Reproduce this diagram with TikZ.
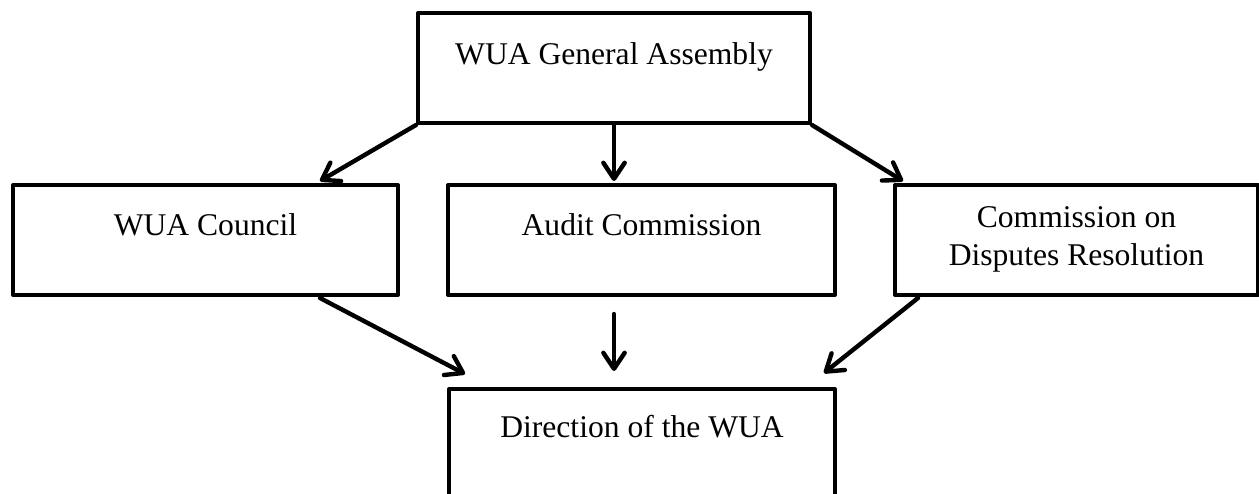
\documentclass[tikz,border=0pt]{standalone}
\usepackage{fontspec}
\setmainfont{Liberation Serif}
\usetikzlibrary{arrows.meta,calc}
\begin{document}
\begin{tikzpicture}[x=0.75pt,y=-0.75pt,
  box/.style={draw=black,line width=3pt,line join=round,fill=white,inner sep=0pt,minimum height=82.5pt},
  lbl/.style={font=\fontsize{23.7}{28.5}\selectfont,inner sep=0pt,align=center},
  conn/.style={line width=3.3pt,line cap=round,line join=round,-{Straight Barb[length=12pt,width=16pt,line cap=round,line join=round]}}]
\useasboundingbox (0,0) rectangle (1259,493);
\clip (0,0) rectangle (1259,493);
\node[box,minimum width=294pt] (gen) at (614,68) {};
\node[box,minimum width=288.75pt] (council) at (205.5,240) {};
\node[box,minimum width=290.25pt] (audit) at (641.5,240) {};
\node[box,minimum width=272.25pt] (right) at (1076.5,240) {};
\node[box,minimum width=289.5pt,minimum height=113.25pt] (dir) at (642,464.5) {};
\node[lbl,anchor=base] (gent) at (614,64) {WUA General Assembly};
\node[lbl,anchor=base] (councilt) at (205.5,235) {WUA Council};
\node[lbl,anchor=base] (auditt) at (641.5,235) {Audit Commission};
\node[lbl,anchor=base] (rightt) at (1076.5,265) {Commission on\\Disputes Resolution};
\node[lbl,anchor=base] (dirt) at (642,437) {Direction of the WUA};
\draw[conn] (gen.south west) -- ($(council.north east)+(-80,-2)$);
\draw[conn] (gen.south) -- ($(gen.south |- audit.north)+(0,-2)$);
\draw[conn] (gen.south east) -- ($(right.north west)+(10,-2)$);
\draw[conn] ($(council.south east)+(-80,1)$) -- ($(dir.north west)+(18,-13)$);
\draw[conn] ($(gen.south |- audit.south)+(0,17)$) -- ($(gen.south |- dir.north)+(0,-16)$);
\draw[conn] ($(right.south west)+(25,1)$) -- ($(dir.north east)+(-13,-14)$);
\end{tikzpicture}
\end{document}
